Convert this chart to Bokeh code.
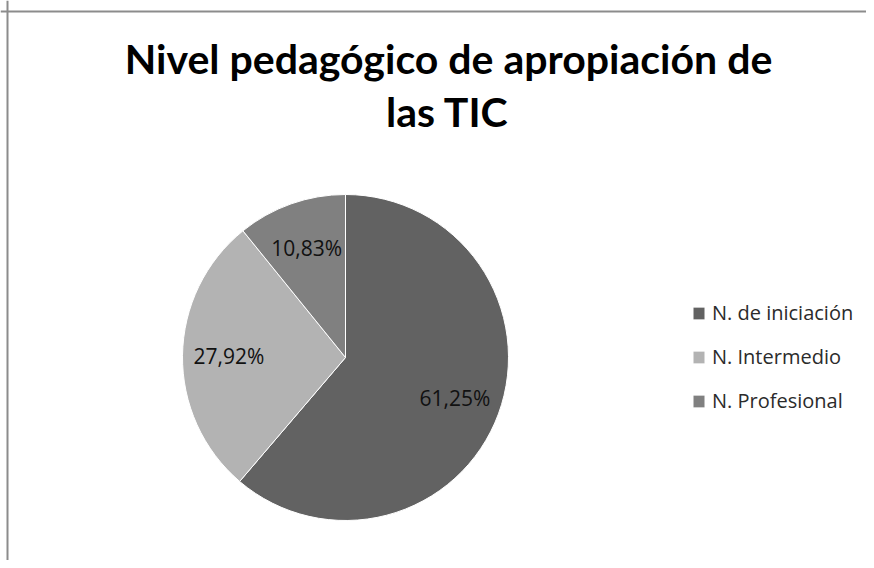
import math
from bokeh.plotting import figure
from bokeh.models import Range1d, Span, Label, Legend, LegendItem, ColumnDataSource
from bokeh.embed import file_html
from bokeh.resources import INLINE

# ---- data ----
title_lines = ["Nivel pedagógico de apropiación de", "las TIC"]
categories = ["N. de iniciación", "N. Intermedio", "N. Profesional"]
percentages = [61.25, 27.92, 10.83]
labels = ["61,25%", "27,92%", "10,83%"]
colors = ["#626262", "#b3b3b3", "#808080"]

# ---- layout constants (pixels) ----
W, H = 866, 560
CX, CY, R = 345, 203, 163
LABEL_R = 0.715 * R
TITLE_FONT = "Lato"
FONT = "Open Sans"

p = figure(width=W, height=H, output_backend="svg", toolbar_location=None,
           x_range=Range1d(0, W), y_range=Range1d(0, H),
           min_border=0, min_border_left=0, min_border_right=0,
           min_border_top=0, min_border_bottom=0)
p.axis.visible = False
p.xgrid.visible = False
p.ygrid.visible = False
p.outline_line_color = None
p.background_fill_color = "white"
p.border_fill_color = "white"

# chart frame (left and top edges visible)
p.add_layout(Span(location=7, dimension="height", line_color="#8c8c8c", line_width=2))
p.add_layout(Span(location=H - 11, dimension="width", line_color="#8c8c8c", line_width=2))

# wedges, clockwise from 12 o'clock
total = sum(percentages)
starts, ends, lx, ly = [], [], [], []
a = math.pi / 2
for v in percentages:
    sweep = 2 * math.pi * v / total
    starts.append(a)
    ends.append(a - sweep)
    mid = a - sweep / 2
    lx.append(CX + LABEL_R * math.cos(mid))
    ly.append(CY + LABEL_R * math.sin(mid))
    a -= sweep

src = ColumnDataSource(dict(start=starts, end=ends, color=colors, cat=categories,
                            lx=lx, ly=ly, lab=labels))
w = p.wedge(x=CX, y=CY, radius=R, start_angle="start", end_angle="end",
            direction="clock", fill_color="color", line_color="white",
            line_width=1, source=src)

p.text(x="lx", y="ly", text="lab", source=src, text_align="center",
       text_baseline="middle", text_font_size="21px", text_color="#111111",
       text_font={"value": FONT})

# title
p.add_layout(Label(x=448, y=H - 58, text=title_lines[0], text_align="center",
                   text_baseline="alphabetic", text_font=TITLE_FONT, text_font_style="bold",
                   text_font_size="41px", text_color="#000000"))
p.add_layout(Label(x=447, y=H - 111, text=title_lines[1], text_align="center",
                   text_baseline="alphabetic", text_font=TITLE_FONT, text_font_style="bold",
                   text_font_size="41px", text_color="#000000"))

# legend
items = [LegendItem(label=c, renderers=[w], index=i) for i, c in enumerate(categories)]
legend = Legend(items=items, location=(691, 146), orientation="vertical",
                glyph_width=15, glyph_height=16, label_standoff=6,
                label_height=20, spacing=17, padding=0, margin=0,
                border_line_color=None, background_fill_alpha=0,
                label_text_font=FONT, label_text_font_size="20px",
                label_text_color="#2b2b2b")
p.add_layout(legend)

open("out.html", "w").write(file_html(p, INLINE))
